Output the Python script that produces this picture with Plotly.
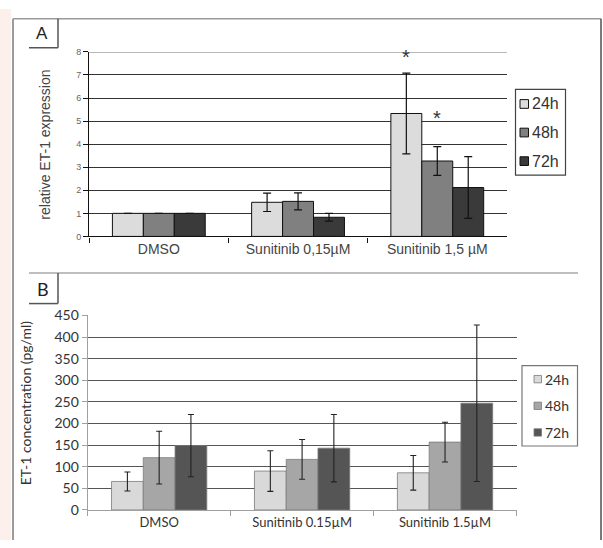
import plotly.graph_objects as go

# ---------------- data ----------------
categories_a = ["DMSO", "Sunitinib 0,15µM", "Sunitinib 1,5 µM"]
categories_b = ["DMSO", "Sunitinib 0.15µM", "Sunitinib 1.5µM"]
series = ["24h", "48h", "72h"]

a_24h = [1.0, 1.48, 5.33]
a_48h = [1.0, 1.52, 3.27]
a_72h = [1.0, 0.83, 2.12]
a_err_24h = [0.0, 0.40, 1.75]
a_err_48h = [0.0, 0.37, 0.62]
a_err_72h = [0.0, 0.17, 1.34]

b_24h = [66, 90, 86]
b_48h = [121, 117, 157]
b_72h = [149, 143, 247]
b_err_24h = [22, 47, 40]
b_err_48h = [61, 46, 46]
b_err_72h = [72, 78, 181]

a_ticks = [0, 1, 2, 3, 4, 5, 6, 7, 8]
b_ticks = [0, 50, 100, 150, 200, 250, 300, 350, 400, 450]

# significance stars (category, series index, y value)
stars_cat = ["Sunitinib 1,5 µM", "Sunitinib 1,5 µM"]
stars_series = [0, 1]
stars_y = [7.62, 4.98]

colors_a = ["#dcdcdc", "#808080", "#3a3a3a"]
colors_b = ["#d9d9d9", "#a6a6a6", "#555555"]

W, H = 603, 548
def px(x):
    return x / W
def py(y):
    return 1 - y / H

fig = go.Figure()

vals_a = [a_24h, a_48h, a_72h]
errs_a = [a_err_24h, a_err_48h, a_err_72h]
for i, s in enumerate(series):
    fig.add_trace(go.Bar(
        x=categories_a, y=vals_a[i], name=s, showlegend=False,
        marker=dict(color=colors_a[i], line=dict(color="#111111", width=1)),
        error_y=dict(type="data", array=errs_a[i], color="#111111", thickness=1.2, width=4),
        xaxis="x", yaxis="y"))

vals_b = [b_24h, b_48h, b_72h]
errs_b = [b_err_24h, b_err_48h, b_err_72h]
for i, s in enumerate(series):
    fig.add_trace(go.Bar(
        x=categories_b, y=vals_b[i], name=s, showlegend=False,
        marker=dict(color=colors_b[i], line=dict(color="#7a7a7a", width=0.8)),
        error_y=dict(type="data", array=errs_b[i], color="#222222", thickness=1.1, width=3),
        xaxis="x2", yaxis="y2"))

shapes = []
annotations = []

def note(text, x, y, size, family, color="#333333", angle=0, xanchor="center"):
    annotations.append(dict(text=text, xref="paper", yref="paper", x=px(x), y=py(y),
                            xanchor=xanchor, yanchor="middle", showarrow=False, textangle=angle,
                            font=dict(family=family, size=size, color=color)))

def line(x0, y0, x1, y1, color, width):
    shapes.append(dict(type="line", xref="paper", yref="paper", x0=px(x0), x1=px(x1),
                       y0=py(y0), y1=py(y1), line=dict(color=color, width=width)))

ARIAL = "Liberation Sans, Arial"
CAL = "Lato, Open Sans"

# background pink strip at the left edge
shapes.append(dict(type="rect", xref="paper", yref="paper", x0=0, x1=px(11), y0=0, y1=1,
                   fillcolor="#fcf0ec", line=dict(width=0), layer="below"))
# outer frame
line(13, 10, 13, 548, "#7a7a7a", 1.5)
line(13, 10, 601, 10, "#9a9a9a", 1.5)
line(601, 10, 601, 548, "#7a7a7a", 2)
# A tab
line(58, 10, 58, 40, "#555555", 1.5)
line(29, 40, 58, 40, "#555555", 1.5)
# separator / B tab
line(29, 272.5, 578, 272.5, "#a8a8a8", 1.5)
line(58, 272.5, 58, 304, "#555555", 1.5)
line(29, 304, 58, 304, "#555555", 1.5)

note("A", 42, 25, 17, ARIAL, "#222222")
note("B", 43, 289, 18, CAL, "#222222")

# axis titles
note("relative ET-1 expression", 45, 140, 14, ARIAL, "#444444", angle=-90)
note("ET-1 concentration (pg/ml)", 25, 407, 14, CAL, "#333333", angle=-90)

# legends (manual, compact like the original)
leg_a_y = [98, 127.5, 157]
shapes.append(dict(type="rect", xref="paper", yref="paper", x0=px(515.5), x1=px(565.5), y0=py(83), y1=py(171.5),
                   line=dict(color="#444444", width=1.2), fillcolor="white"))
for i, s in enumerate(series):
    yc = leg_a_y[i]
    shapes.append(dict(type="rect", xref="paper", yref="paper", x0=px(520), x1=px(528.5),
                       y0=py(yc - 4.5), y1=py(yc + 4.5),
                       fillcolor=colors_a[i], line=dict(color="#111111", width=1)))
    note(s, 529.5, yc, 16, ARIAL, "#333333", xanchor="left")

leg_b_y = [382, 409.5, 437]
shapes.append(dict(type="rect", xref="paper", yref="paper", x0=px(522), x1=px(577.5), y0=py(368), y1=py(451),
                   line=dict(color="#777777", width=1.2), fillcolor="white"))
for i, s in enumerate(series):
    yc = leg_b_y[i]
    shapes.append(dict(type="rect", xref="paper", yref="paper", x0=px(534), x1=px(541.5),
                       y0=py(yc - 3.8), y1=py(yc + 3.8),
                       fillcolor=colors_b[i], line=dict(color="#7a7a7a", width=0.8)))
    note(s, 543, yc, 14, CAL, "#333333", xanchor="left")

# stars
bar_px = (506.9 - 89.2) / 3 * (2 / 3) / 3
for c, si, yv in zip(stars_cat, stars_series, stars_y):
    annotations.append(dict(text="*", xref="x", yref="y", x=c, y=yv, showarrow=False,
                            xanchor="center", yanchor="middle",
                            xshift=(si - 1) * bar_px, yshift=4,
                            font=dict(family=ARIAL, size=20, color="#333333")))

# lighter top border line of panel A's plot area
shapes.append(dict(type="line", xref="x domain", yref="y", x0=0, x1=1, y0=8, y1=8,
                   line=dict(color="#a0a0a0", width=1.5)))

fig.update_layout(
    width=W, height=H, margin=dict(l=0, r=0, t=0, b=0),
    paper_bgcolor="white", plot_bgcolor="white",
    barmode="group", bargap=1/3, bargroupgap=0,
    shapes=shapes, annotations=annotations,
    xaxis=dict(domain=[px(89.2), px(506.9)], anchor="y", type="category",
               showline=True, linecolor="#111111", linewidth=1.2,
               ticks="outside", tickson="boundaries", ticklen=5, tickcolor="#111111",
               tickfont=dict(family=ARIAL, size=14, color="#444444"),
               showgrid=False),
    yaxis=dict(domain=[py(234.7), py(44.3)], anchor="x", range=[0, 8], tickvals=a_ticks,
               showline=True, linecolor="#111111", linewidth=1.2,
               ticks="outside", ticklen=5, tickcolor="#111111",
               tickfont=dict(family=ARIAL, size=9, color="#666666"),
               showgrid=True, gridcolor="#333333", gridwidth=1.3, zeroline=False),
    xaxis2=dict(domain=[px(87.7), px(516.5)], anchor="y2", type="category",
                showline=True, linecolor="#a0a0a0", linewidth=1.2,
                ticks="outside", tickson="boundaries", ticklen=5, tickcolor="#a0a0a0",
                tickfont=dict(family=CAL, size=13, color="#333333"),
                showgrid=False),
    yaxis2=dict(domain=[py(517), py(316.3)], anchor="x2", range=[0, 450], tickvals=b_ticks,
                showline=True, linecolor="#a0a0a0", linewidth=1.2,
                ticks="outside", ticklen=5, tickcolor="#a0a0a0",
                tickfont=dict(family=CAL, size=14, color="#333333"),
                showgrid=True, gridcolor="#555555", gridwidth=1.3, zeroline=False),
)

fig.write_html("out.html")
